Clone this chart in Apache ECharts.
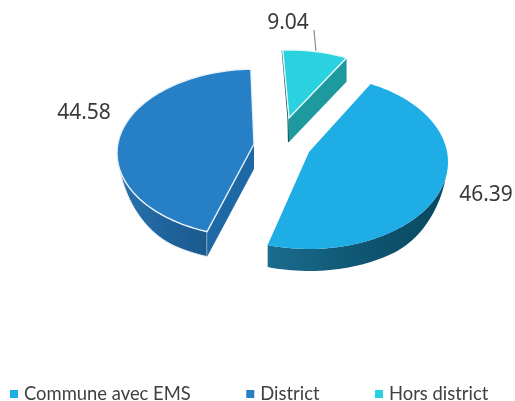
<!DOCTYPE html>
<html>
<head>
<meta charset="utf-8">
<style>html,body{margin:0;padding:0;background:#fff}#c{width:515px;height:401px}</style>
<script src="https://cdn.jsdelivr.net/npm/echarts@6/dist/echarts.min.js"></script>
</head>
<body>
<div id="c"></div>
<script>
var categories = ['Commune avec EMS', 'District', 'Hors district'];
var values = [46.39, 44.58, 9.04];
var topColors = ['#1FADE6', '#2780C6', '#29D2DE'];

// Projection of each exploded slice: ellipse centre, radii, apex, wall depth, start angle, sweep stretch
var projection = [
  {cx: 309, cy: 162, rx: 139, ry: 87, ax: 309, ay: 152, depth: 22, start: -63.7, stretch: 1.024, edge: null,
   wall: ['#1A6C8E', '#0E5572', '#0A4860'], wallA: 10, wallB: 180, radial: null, label: [486, 195]},
  {cx: 256, cy: 153, rx: 139, ry: 84, ax: 254, ay: 144, depth: 25, start: 110.6, stretch: 0.98, edge: '#E8F1F8',
   wall: ['#2B72AC', '#1F639C', '#1A5A8E'], wallA: 0, wallB: 169, radial: '#1F68A6', label: [84, 113]},
  {cx: 290, cy: 140, rx: 139, ry: 90, ax: 289, ay: 118, depth: 24, start: 267, stretch: 0.83, edge: '#EAFBFC',
   wall: null, radial: '#1E9A9E', label: [288, 23]}
];

function pt(p, deg, dy) {
  var t = deg * Math.PI / 180;
  return [p.cx + p.rx * Math.cos(t), p.cy + p.ry * Math.sin(t) + (dy || 0)];
}
function arc(p, a, b) {
  var out = [], n = Math.max(2, Math.ceil(Math.abs(b - a) / 2));
  for (var i = 0; i <= n; i++) out.push(pt(p, a + (b - a) * i / n, 0));
  return out;
}
// wall bottom edge: full depth, easing to nothing at the silhouette of the ellipse
function wallBottom(p, a, b) {
  var out = [], n = Math.max(2, Math.ceil(Math.abs(b - a) / 2)), fade = 45;
  function ease(d) { return Math.sin(Math.min(1, Math.max(0, d / fade)) * Math.PI / 2); }
  for (var i = 0; i <= n; i++) {
    var t = b + (a - b) * i / n, k = 1;
    if (p.wallA > 0) k = Math.min(k, ease(t - p.wallA));
    if (p.wallB < 180) k = Math.min(k, ease(p.wallB - t));
    out.push(pt(p, t, p.depth * k));
  }
  return out;
}

function renderSlice(params, api) {
  var i = params.seriesIndex, p = projection[i], v = api.value(0);
  var total = values.reduce(function (s, x) { return s + x; }, 0);
  var a = p.start, b = p.start + v / total * 360 * p.stretch;
  var kids = [];

  // outer wall: visible on the near half of the ellipse
  if (p.wall) {
    var wa = Math.max(a, p.wallA), wb = Math.min(b, p.wallB);
    var pts = arc(p, wa, wb).concat(wallBottom(p, wa, wb));
    kids.push({type: 'polygon', shape: {points: pts}, style: {
      fill: new echarts.graphic.LinearGradient(0, 0, 1, 0,
        [{offset: 0, color: p.wall[0]}, {offset: 0.55, color: p.wall[1]}, {offset: 1, color: p.wall[2]}]),
      stroke: p.edge || 'none', lineWidth: p.edge ? 1 : 0}});
  }
  // radial wall: the cut face turned toward the viewer
  if (p.radial) {
    var e = pt(p, i === 2 ? b : a);
    kids.push({type: 'polygon', shape: {points: [[p.ax, p.ay], e, [e[0], e[1] + p.depth], [p.ax, p.ay + p.depth]]},
      style: {fill: p.radial, stroke: 'none'}});
  }
  // thin dark sliver on the left of the small slice, and its leader line
  if (i === 2) {
    var l = pt(p, a);
    kids.push({type: 'polyline', shape: {points: [[l[0] - 0.5, l[1]], [p.ax - 1, p.ay], [p.ax - 0.5, p.ay + p.depth]]},
      style: {fill: 'none', stroke: '#0F5A60', lineWidth: 1.2}});
    kids.push({type: 'line', shape: {x1: 314, y1: 30, x2: 316, y2: 52}, style: {stroke: '#8C8C8C', lineWidth: 1.2}});
  }
  // top face
  var face = [[p.ax, p.ay]].concat(arc(p, a, b));
  kids.push({type: 'polygon', shape: {points: face}, style: {
    fill: topColors[i], stroke: p.edge || 'none', lineWidth: p.edge ? 1.4 : 0}});
  return {type: 'group', children: kids};
}

var chart = echarts.init(document.getElementById('c'), null, {renderer: 'canvas'});
chart.setOption({
  animation: false,
  backgroundColor: '#fff',
  legend: {
    data: categories, left: 5, top: 380, icon: 'rect', itemWidth: 8, itemHeight: 8, itemGap: 55.5,
    textStyle: {color: '#404040', fontSize: 18.4, fontFamily: 'Lato', padding: [0, 0, 0, 1]}
  },
  graphic: values.map(function (v, i) {
    return {type: 'text', x: projection[i].label[0], y: projection[i].label[1], silent: true,
      style: {text: v.toFixed(2), fill: '#3A3A3A', font: '21px "Noto Sans", sans-serif',
        align: 'center', verticalAlign: 'middle'}};
  }),
  series: categories.map(function (name, i) {
    return {
      type: 'custom', name: name, coordinateSystem: 'none', renderItem: renderSlice,
      itemStyle: {color: topColors[i]}, data: [[values[i]]], silent: true
    };
  })
});
</script>
</body>
</html>
